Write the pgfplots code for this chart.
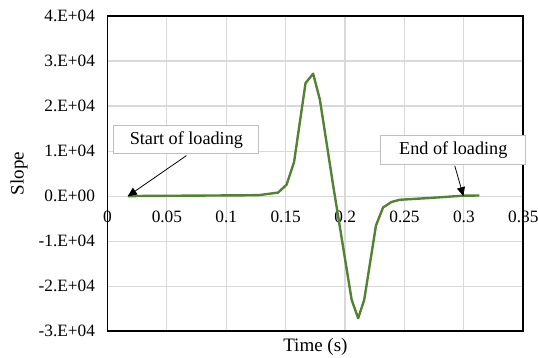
\documentclass[border=0pt]{standalone}
\usepackage{fontspec}
\setmainfont{Liberation Serif}
\usepackage{pgfplots}
\pgfplotsset{compat=1.18}
\usetikzlibrary{arrows.meta}

\definecolor{slopegreen}{HTML}{548235}
\definecolor{gridgray}{HTML}{D9D9D9}
\definecolor{boxgray}{HTML}{BFBFBF}

\begin{document}
\begin{tikzpicture}
\begin{axis}[
  scale only axis,
  width=415.8pt, height=315.3pt,
  xmin=0, xmax=0.35,
  ymin=-30000, ymax=40000,
  xtick={0,0.05,0.1,0.15,0.2,0.25,0.3,0.35},
  xticklabels={0,0.05,0.1,0.15,0.2,0.25,0.3,0.35},
  ytick={-30000,-20000,-10000,0,10000,20000,30000,40000},
  yticklabels={-3.E+04,-2.E+04,-1.E+04,0.E+00,1.E+04,2.E+04,3.E+04,4.E+04},
  scaled ticks=false,
  major tick length=0pt,
  grid=major,
  major grid style={gridgray, line width=1.2pt},
  axis line style={black, line width=1.6pt},
  /pgf/number format/assume math mode=true,
  ticklabel style={font=\fontsize{17.3}{20}\selectfont, text=black},
  xticklabel style={yshift=124pt},
  yticklabel style={xshift=-9pt},
  xlabel={Time (s)},
  ylabel={Slope},
  label style={font=\fontsize{19}{22}\selectfont},
  xlabel style={at={(rel axis cs:0.5,0)}, anchor=center, yshift=-15.4pt},
  ylabel style={at={(rel axis cs:0,0.5)}, anchor=center, yshift=88.5pt},
  clip=false,
]
\coordinate (sw) at (rel axis cs:0,0);

% slope history over the loading event
\addplot[slopegreen, line width=2.4pt, line join=round] coordinates {
  (0.0171,0) (0.03,50) (0.06,100) (0.09,150) (0.12,200) (0.128,250)
  (0.1436,800) (0.1507,2530) (0.157,7500) (0.1667,25100) (0.1731,27200)
  (0.1788,21400) (0.19,2300) (0.2055,-23000) (0.211,-27100)
  (0.2161,-23000) (0.226,-6500) (0.232,-2500) (0.239,-1300)
  (0.246,-800) (0.2715,-400) (0.299,100) (0.313,150)
};

% annotations
\draw[black, line width=0.8pt, -{Triangle[length=9pt,width=8pt]}]
  (axis cs:0.0664,9000) -- (axis cs:0.0171,0);
\node[draw=boxgray, line width=1pt, fill=white, minimum width=145pt,
      minimum height=28.3pt, inner sep=0pt,
      font=\fontsize{18.2}{21}\selectfont]
  at (axis cs:0.0664,12520) {Start of loading};

\draw[black, line width=0.8pt, -{Triangle[length=9pt,width=8pt]}]
  (axis cs:0.2923,6750) -- (axis cs:0.2996,0);
\node[draw=boxgray, line width=1pt, fill=white, minimum width=145pt,
      minimum height=29.3pt, inner sep=0pt,
      font=\fontsize{18.2}{21}\selectfont]
  at (axis cs:0.2911,10180) {End of loading};
\end{axis}
\pgfresetboundingbox
\path[use as bounding box] (sw) ++(-107.5pt,-26.7pt) rectangle ++(538pt,358pt);
\end{tikzpicture}
\end{document}
